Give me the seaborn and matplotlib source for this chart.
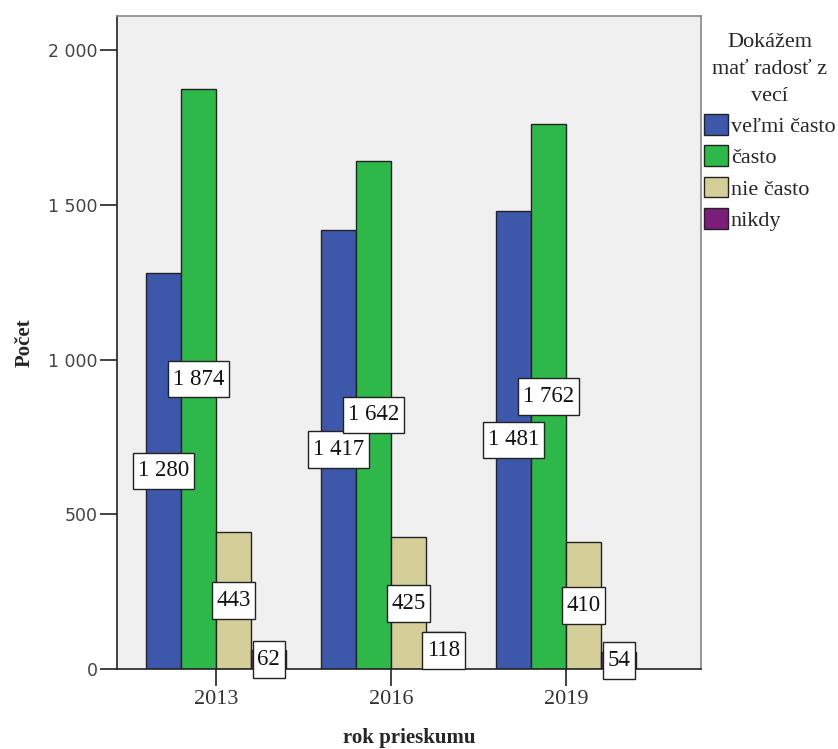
import matplotlib
matplotlib.use("Agg")
import matplotlib.pyplot as plt
from matplotlib.path import Path
import seaborn as sns
import pandas as pd

# Survey counts by year and answer
years = ["2013", "2016", "2019"]
answers = ["veľmi často", "často", "nie často", "nikdy"]
velmi_casto = [1280, 1417, 1481]
casto = [1874, 1642, 1762]
nie_casto = [443, 425, 410]
nikdy = [62, 118, 54]
colors = ["#3D57AA", "#2EB84A", "#D4CF98", "#7B1E7A"]
yticks = [0, 500, 1000, 1500, 2000]

series = [velmi_casto, casto, nie_casto, nikdy]
df = pd.DataFrame(
    [(y, a, vals[i]) for a, vals in zip(answers, series) for i, y in enumerate(years)],
    columns=["rok", "odpoved", "pocet"],
)

sns.set_style("white")
serif = ["Liberation Serif", "DejaVu Serif"]


def label_box(x0, y0, width, height, mutation_size):
    """Rectangle around a value label, with more padding above/below than at the sides."""
    padx = 0.2 * mutation_size
    pady = 0.34 * mutation_size
    x0, y0 = x0 - padx, y0 - pady
    x1, y1 = x0 + width + 2 * padx, y0 + height + 2 * pady
    return Path([(x0, y0), (x1, y0), (x1, y1), (x0, y1), (x0, y0)], closed=True)


fig = plt.figure(figsize=(8.38, 7.49), dpi=100)
ax = fig.add_axes([117 / 838, 1 - 669 / 749, (701 - 117) / 838, (669 - 16) / 749])
ax.set_facecolor("#F0F0F0")

sns.barplot(
    data=df, x="rok", y="pocet", hue="odpoved", order=years, hue_order=answers,
    palette=colors, width=0.8, edgecolor="#222222", linewidth=1.0,
    saturation=1, ax=ax, legend=True,
)

def fmt(v):
    return f"{v:,}".replace(",", " ")

for cont, vals in zip(ax.containers, series):
    texts = ax.bar_label(
        cont, labels=[fmt(v) for v in vals], label_type="center",
        fontsize=16.5, family=serif, color="#111111",
        bbox=dict(boxstyle=label_box, facecolor="white", edgecolor="#222222", linewidth=1.0),
    )
    for t in texts:
        t.set_clip_on(False)
        t.set_zorder(5)

ax.set_ylim(0, 2110)
ax.set_xlim(-0.566, 2.771)
ax.set_yticks(yticks)
ax.set_yticklabels([fmt(v) for v in yticks], fontsize=12.5, color="#444444", family="DejaVu Sans")
ax.set_xticks(range(len(years)))
ax.set_xticklabels(years, fontsize=16, color="#333333", family=serif)
ax.tick_params(axis="both", direction="out", length=12, width=1.2, color="#222222", pad=2,
               left=True, bottom=True)
ax.tick_params(axis="x", length=12, pad=3)

for side in ["left", "bottom"]:
    ax.spines[side].set_color("#222222")
    ax.spines[side].set_linewidth(1.2)
for side in ["top", "right"]:
    ax.spines[side].set_visible(True)
    ax.spines[side].set_color("#888888")
    ax.spines[side].set_linewidth(1.2)

ax.set_ylabel("Počet", fontsize=15, fontweight="bold", family=serif, labelpad=10)
ax.set_xlabel("rok prieskumu", fontsize=15, fontweight="bold", family=serif, labelpad=14)

ax.get_legend().remove()
handles = [plt.Rectangle((0, 0), 1, 1, facecolor=c, edgecolor="#222222", linewidth=1.0) for c in colors]
leg = fig.legend(
    handles, answers, title="Dokážem\nmať radosť z\nvecí",
    loc="upper left", bbox_to_anchor=(702 / 838, 1 - 31 / 749),
    frameon=False, prop={"family": serif, "size": 16},
    title_fontproperties={"family": serif, "size": 16},
    handlelength=1.05, handleheight=1.05, handletextpad=0.15,
    labelspacing=0.38, borderaxespad=0, borderpad=0.1,
)
leg.get_title().set_multialignment("center")
leg.get_title().set_linespacing(1.55)

fig.savefig("out.png", dpi=100)
